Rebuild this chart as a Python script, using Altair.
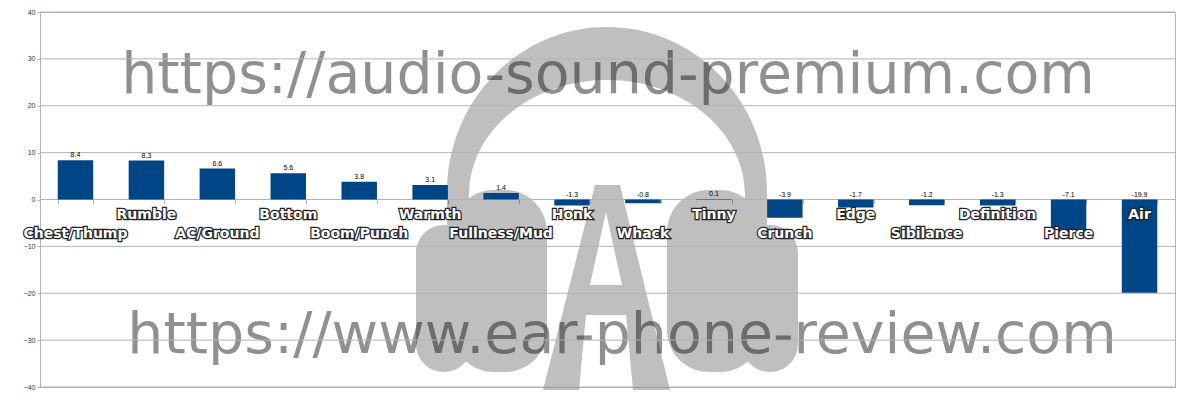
import altair as alt
import pandas as pd

categories = ["Chest/Thump", "Rumble", "AC/Ground", "Bottom", "Boom/Punch", "Warmth",
              "Fullness/Mud", "Honk", "Whack", "Tinny", "Crunch", "Edge", "Sibilance",
              "Definition", "Pierce", "Air"]
values = [8.4, 8.3, 6.6, 5.6, 3.8, 3.1, 1.4, -1.3, -0.8, 0.1, -3.9, -1.7, -1.2, -1.3, -7.1, -19.9]
y_ticks = [-40, -30, -20, -10, 0, 10, 20, 30, 40]
watermark_top = "https://audio-sound-premium.com"
watermark_bottom = "https://www.ear-phone-review.com"

df = pd.DataFrame({"cat": categories, "v": values, "idx": list(range(len(categories))),
                   "lbl": [f"{v:.1f}" for v in values]})

# ---- decorative watermark logo (custom symbol path, pixel units around its centre) ----
CX, CY = 607, 210
K = 0.5523


def P(x, y):
    return f"{x - CX:.1f},{y - CY:.1f}"


def rrect(x0, y0, x1, y1, r):
    k = K * r
    return (f"M{P(x0 + r, y0)} L{P(x1 - r, y0)} C{P(x1 - r + k, y0)} {P(x1, y0 + r - k)} {P(x1, y0 + r)} "
            f"L{P(x1, y1 - r)} C{P(x1, y1 - r + k)} {P(x1 - r + k, y1)} {P(x1 - r, y1)} "
            f"L{P(x0 + r, y1)} C{P(x0 + r - k, y1)} {P(x0, y1 - r + k)} {P(x0, y1 - r)} "
            f"L{P(x0, y0 + r)} C{P(x0, y0 + r - k)} {P(x0 + r - k, y0)} {P(x0 + r, y0)} Z ")


def band():
    ocx, ocy, orx, ory = 607, 192, 160, 165
    icx, icy, irx, iry = 607, 195, 138, 115
    s = f"M{P(ocx - orx, 255)} L{P(ocx - orx, ocy)} "
    s += f"C{P(ocx - orx, ocy - K * ory)} {P(ocx - K * orx, ocy - ory)} {P(ocx, ocy - ory)} "
    s += f"C{P(ocx + K * orx, ocy - ory)} {P(ocx + orx, ocy - K * ory)} {P(ocx + orx, ocy)} "
    s += f"L{P(ocx + orx, 255)} L{P(icx + irx, 255)} L{P(icx + irx, icy)} "
    s += f"C{P(icx + irx, icy - K * iry)} {P(icx + K * irx, icy - iry)} {P(icx, icy - iry)} "
    s += f"C{P(icx - K * irx, icy - iry)} {P(icx - irx, icy - K * iry)} {P(icx - irx, icy)} "
    s += f"L{P(icx - irx, 255)} Z "
    return s


def letter_a():
    s = (f"M{P(595, 185)} L{P(620, 185)} L{P(670, 390)} L{P(633, 390)} L{P(626, 315)} "
         f"L{P(586, 315)} L{P(579, 390)} L{P(543, 390)} Z ")
    s += f"M{P(606, 212)} L{P(590, 285)} L{P(622, 285)} Z "
    return s


logo_path = (band() + rrect(416, 225, 472, 372, 28) + rrect(452, 190, 547, 372, 42)
             + rrect(742, 225, 798, 372, 28) + rrect(667, 190, 762, 372, 42) + letter_a())

PLOT_LEFT, PLOT_TOP = 40, 12

yscale = alt.Scale(domain=[-40, 40], nice=False)

base = alt.Chart(df).encode(
    x=alt.X("cat:N", sort=categories,
            scale=alt.Scale(paddingInner=0.5, paddingOuter=0.25),
            axis=alt.Axis(labels=False, title=None, domain=False, grid=False, ticks=True,
                          tickBand="extent", tickSize=4, tickColor="#b3b3b3", offset=-187.5))
)

logo = alt.Chart(pd.DataFrame({"k": [0]})).mark_point(
    shape=logo_path, filled=True, size=4, fill="#000000", fillOpacity=0.25, strokeWidth=0, opacity=1
).encode(x=alt.value(CX - PLOT_LEFT), y=alt.value(CY - PLOT_TOP))

wm1 = alt.Chart(pd.DataFrame({"t": [watermark_top]})).mark_text(
    font="DejaVu Sans", fontSize=57, color="#000000", opacity=0.43, baseline="alphabetic", align="center"
).encode(text="t:N", x=alt.value(608 - PLOT_LEFT), y=alt.value(93 - PLOT_TOP))

wm2 = alt.Chart(pd.DataFrame({"t": [watermark_bottom]})).mark_text(
    font="DejaVu Sans", fontSize=57, color="#000000", opacity=0.43, baseline="alphabetic", align="center"
).encode(text="t:N", x=alt.value(622 - PLOT_LEFT), y=alt.value(353 - PLOT_TOP))

grid = alt.Chart(pd.DataFrame({"t": y_ticks})).mark_rule(color="#b3b3b3", strokeWidth=1).encode(
    y=alt.Y("t:Q", scale=yscale)
)

bars = base.mark_bar(color="#004586").encode(
    y=alt.Y("v:Q", scale=yscale,
            axis=alt.Axis(values=y_ticks, grid=False, domainColor="#b3b3b3",
                          tickColor="#b3b3b3", tickSize=3, labelFontSize=7, labelColor="#333333",
                          labelFont="Liberation Sans", labelPadding=2, title=None,
                          minExtent=27, maxExtent=27))
)

vlabels = base.transform_calculate(ly="max(datum.v, 0)").mark_text(
    fontSize=7, font="Liberation Sans", color="#000000", baseline="bottom", dy=-2
).encode(y="ly:Q", text="lbl:N")


def cat_layer(parity, ypix):
    src = base.transform_filter(f"datum.idx % 2 == {parity}")
    outline = src.mark_text(font="DejaVu Sans", fontSize=14, fontWeight="bold", baseline="middle",
                            stroke="#222222", strokeWidth=2.5, fill="#222222").encode(
        text="cat:N", y=alt.value(ypix))
    fill = src.mark_text(font="DejaVu Sans", fontSize=14, fontWeight="bold", baseline="middle",
                         fill="#ffffff").encode(text="cat:N", y=alt.value(ypix))
    return outline + fill


chart = alt.layer(
    logo, wm1, wm2, grid, bars, vlabels, cat_layer(0, 234 - PLOT_TOP), cat_layer(1, 215 - PLOT_TOP)
).properties(
    width=1135, height=375,
    padding={"left": 32, "top": 4, "right": 10, "bottom": 12},
    autosize=alt.AutoSizeParams(type="none"),
).configure_view(stroke="#b3b3b3")

chart.save("out.html", embed_options={"renderer": "svg", "actions": False})
